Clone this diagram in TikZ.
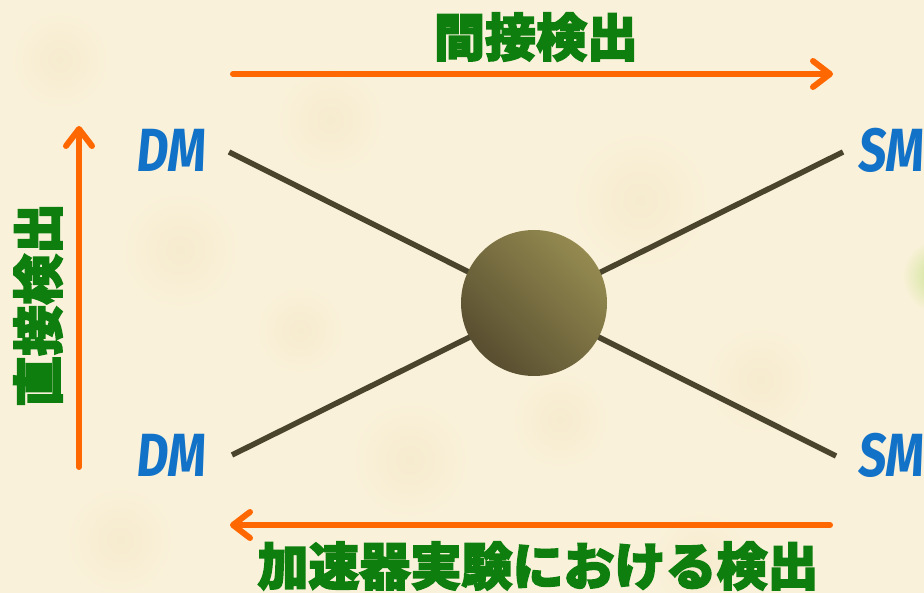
\documentclass[tikz,border=0pt]{standalone}
\usepackage{fontspec}
\usetikzlibrary{arrows.meta}
\newfontfamily\jpfont{Noto Sans CJK JP}[BoldFeatures={FakeBold=3}]
\newfontfamily\latfont{Fira Sans}
\definecolor{bg}{RGB}{250,241,218}
\definecolor{bgspot}{RGB}{246,235,206}
\definecolor{jpgreen}{RGB}{14,126,14}
\definecolor{dmblue}{RGB}{18,114,200}
\definecolor{arrorange}{RGB}{255,104,0}
\definecolor{linedark}{RGB}{74,68,44}
\definecolor{balldark}{RGB}{88,78,48}
\definecolor{balllight}{RGB}{148,138,80}
\definecolor{blobgreen}{RGB}{200,226,140}
\tikzset{
  jptext/.style={inner sep=0pt, text=jpgreen, font=\jpfont\bfseries\fontsize{51}{51}\selectfont},
  particle/.style={inner sep=0pt, text=dmblue, font=\latfont\bfseries\fontsize{61}{61}\selectfont, xscale=0.8, xslant=0.12},
  detarrow/.style={draw=arrorange, line width=6pt, line cap=round,
    -{Straight Barb[length=17pt, width=26pt, line cap=round, line join=round]}},
  leg/.style={draw=linedark, line width=5.5pt}
}
\begin{document}
\begin{tikzpicture}[x=1pt,y=-1pt]
\useasboundingbox (0,0) rectangle (924,593);
\begin{scope}
\clip (0,0) rectangle (924,593);
\fill[bg] (0,0) rectangle (924,593);
\foreach \px/\py/\pr in {60/60/50, 180/250/60, 330/120/55, 410/460/60, 640/200/70, 760/380/55, 120/540/55, 700/560/50, 300/330/45, 560/420/50}
  \shade[inner color=bgspot, outer color=bg] (\px,\py) circle (\pr);
\shade[inner color=blobgreen, outer color=bg] (940,276) circle (38);
\end{scope}
% legs
\coordinate (tl) at (229,152);
\coordinate (br) at (836,456);
\coordinate (bl) at (232,455);
\coordinate (tr) at (843,152);
\draw[leg] (tl) -- (br);
\draw[leg] (bl) -- (tr);
% central blob
\shade[bottom color=balldark, top color=balllight, shading angle=-45] (534,303) circle (73);
\node[circle, minimum size=146pt, inner sep=0pt] (ball) at (534,303) {};
% particle labels
\node[particle] (dm1) at (172,150) {DM};
\node[particle] (dm2) at (172,455) {DM};
\node[particle, anchor=west] (sm1) at (859,150) {SM};
\node[particle, anchor=west] (sm2) at (859,455) {SM};
% arrows
\coordinate (ta) at (233,74);
\coordinate (tb) at (833,74);
\draw[detarrow] (ta) -- (tb);
\coordinate (la) at (79,467);
\coordinate (lb) at (79,126);
\draw[detarrow] (la) -- (lb);
\coordinate (ba) at (830,525);
\coordinate (bb) at (230,525);
\draw[detarrow] (ba) -- (bb);
% labels
\node[jptext] (indirect) at (536,37) {間接検出};
\node[jptext, rotate=90] (direct) at (38,305) {直接検出};
\node[jptext] (collider) at (538,566) {加速器実験における検出};
\end{tikzpicture}
\end{document}
